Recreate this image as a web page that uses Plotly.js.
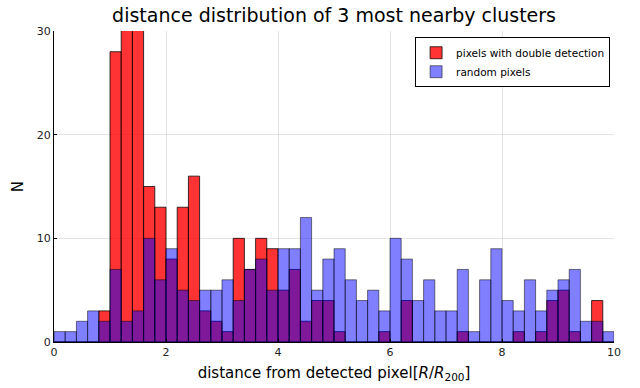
<!DOCTYPE html>
<html><head><meta charset="utf-8">
<script src="https://cdn.plot.ly/plotly-3.0.1.min.js"></script>
<style>html,body{margin:0;padding:0;background:#fff}#chart{width:640px;height:388px}</style>
</head><body><div id="chart"></div>
<script>
// histogram bins: 0 to 10, width 0.2
const binStart = 0;
const binWidth = 0.2;
const doubleDetection = [0,0,0,0,3,28,33,35,15,13,8,13,16,3,2,1,10,7,10,9,5,7,2,4,4,1,0,0,0,1,0,4,0,0,0,0,1,0,0,0,0,1,0,1,4,5,1,0,4,0];
const randomPixels    = [1,1,2,3,2,7,2,3,10,6,9,5,4,5,5,6,4,7,8,5,9,9,12,5,8,9,6,4,5,3,10,8,4,6,3,3,7,1,6,9,4,3,6,3,5,6,7,2,2,1];
const seriesNames = ['pixels with double detection','random pixels'];
const xTicks = [0,2,4,6,8,10];
const yTicks = [0,10,20,30];

const centers = doubleDetection.map((_, i) => binStart + binWidth * (i + 0.5));
const font = 'DejaVu Sans, sans-serif';

const traces = [
  {type:'bar', name:seriesNames[0], x:centers, y:doubleDetection, width:binWidth,
   marker:{color:'rgba(255,0,0,0.8)', line:{color:'rgba(0,0,0,0.75)', width:1}}},
  {type:'bar', name:seriesNames[1], x:centers, y:randomPixels, width:binWidth,
   marker:{color:'rgba(0,0,255,0.5)', line:{color:'rgba(0,0,0,0.5)', width:1}}}
];

const layout = {
  width:640, height:388,
  margin:{l:54, r:26, t:31, b:46},
  paper_bgcolor:'#fff', plot_bgcolor:'#fff',
  barmode:'overlay', bargap:0,
  font:{family:font, size:11, color:'#000'},
  title:{text:'distance distribution of 3 most nearby clusters', font:{family:font, size:19, color:'#000'}, x:0.522, xanchor:'center', y:0.96, yanchor:'middle'},
  xaxis:{range:[0,10], tickvals:xTicks, ticktext:xTicks.map(String), showline:true, linecolor:'#000', linewidth:1,
         showgrid:true, gridcolor:'rgba(0,0,0,0.1)', zeroline:false, ticks:'inside', ticklen:3, tickcolor:'#000',
         tickfont:{size:11, color:'#222'},
         title:{text:'distance from detected pixel[<i>R</i>/<i>R</i><sub>200</sub>]', font:{size:15}, standoff:9}},
  yaxis:{range:[0,30], tickvals:yTicks, ticktext:yTicks.map(String), showline:true, linecolor:'#000', linewidth:1,
         showgrid:true, gridcolor:'rgba(0,0,0,0.1)', zeroline:false, ticks:'inside', ticklen:3, tickcolor:'#000',
         tickfont:{size:11, color:'#222'},
         title:{text:'N', font:{size:15}, standoff:9}},
  legend:{x:0.993, y:0.98, xanchor:'right', yanchor:'top', bgcolor:'#fff', bordercolor:'#000', borderwidth:1,
          font:{size:10.5}, traceorder:'normal', itemwidth:30, tracegroupgap:0},
  showlegend:true
};
Plotly.newPlot('chart', traces, layout, {displayModeBar:false, staticPlot:true});
</script></body></html>
